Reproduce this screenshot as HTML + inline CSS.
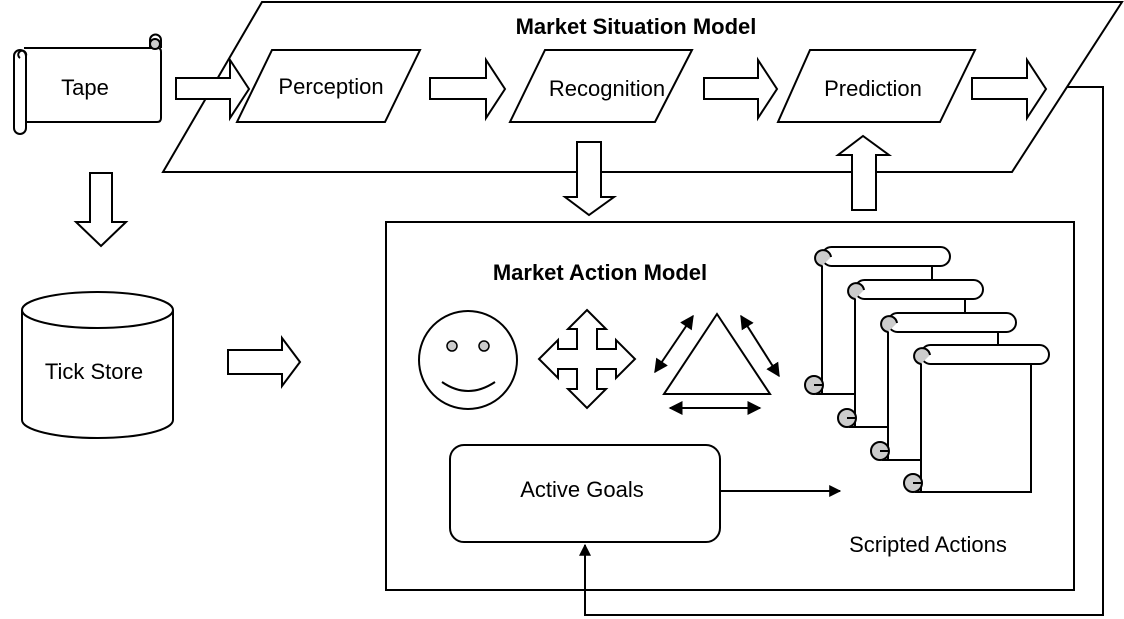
<!DOCTYPE html>
<html><head><meta charset="utf-8"><style>
html,body{margin:0;padding:0;background:#fff;}
svg{display:block;}
text{font-family:"Liberation Sans",Arial,sans-serif;fill:#000;}
</style></head><body>
<svg width="1124" height="619" viewBox="0 0 1124 619" xmlns="http://www.w3.org/2000/svg">
<defs>
<marker id="ah" viewBox="0 0 10 10" refX="9" refY="5" markerWidth="6" markerHeight="6" orient="auto-start-reverse" markerUnits="strokeWidth"><path d="M0,0 L10,5 L0,10 z" fill="#000"/></marker>
<marker id="ah2" viewBox="0 0 10 10" refX="9" refY="5" markerWidth="7" markerHeight="7" orient="auto-start-reverse" markerUnits="strokeWidth"><path d="M0,0 L10,5 L0,10 z" fill="#000"/></marker>
<g id="scroll">
<rect x="822" y="257" width="110" height="137" fill="#fff" stroke="#000" stroke-width="2"/>
<rect x="822" y="247" width="128" height="19" rx="9.5" fill="#fff" stroke="#000" stroke-width="2"/>
<path d="M822,266 A8,8 0 1 1 831,257" fill="#ccc" stroke="#000" stroke-width="2"/>
<circle cx="814" cy="385" r="9" fill="#ccc" stroke="#000" stroke-width="2"/>
<path d="M814,385 L822,385 M816,394 L822,394" stroke="#000" stroke-width="2"/>
</g>
</defs>
<g fill="none" stroke="#000" stroke-width="2">
<path d="M1067,87 L1103,87 L1103,615 L585,615 L585,545" marker-end="url(#ah)"/>
<polygon points="262,2 1122,2 1012,172 163,172" fill="#fff"/>
<polygon points="272,50 420,50 385,122 237,122" fill="#fff"/>
<polygon points="545,50 692,50 655,122 510,122" fill="#fff"/>
<polygon points="810,50 975,50 940,122 778,122" fill="#fff"/>
<polygon points="176,78 230,78 230,60 249,89 230,118 230,99 176,99" fill="#fff"/>
<polygon points="430,78 486,78 486,60 505,89 486,118 486,99 430,99" fill="#fff"/>
<polygon points="704,78 758,78 758,60 777,89 758,118 758,99 704,99" fill="#fff"/>
<polygon points="972,78 1027,78 1027,60 1046,89 1027,118 1027,99 972,99" fill="#fff"/>
<polygon points="577,142 601,142 601,197 614,197 589,215 565,197 577,197" fill="#fff"/>
<polygon points="852,210 876,210 876,155 889,155 863,136 838,155 852,155" fill="#fff"/>
<polygon points="90,173 112,173 112,222 126,222 101,246 76,222 90,222" fill="#fff"/>
<polygon points="228,350 282,350 282,338 300,362 282,386 282,374 228,374" fill="#fff"/>
<!-- tape scroll -->
<path d="M24,48 L158,48 Q161,48 161,52 L161,118 Q161,122 157,122 L24,122" fill="#fff"/>
<path d="M150,48 L150,40 A5,5 0 0 1 161,40 L161,48" fill="#fff"/>
<circle cx="155" cy="44" r="5" fill="#ccc"/>
<rect x="14" y="50" width="12" height="84" rx="6" fill="#fff"/>
<path d="M20,58 A4,4 0 1 1 26,56"/>
<ellipse cx="97.5" cy="420" rx="75.5" ry="18" fill="#fff"/>
<rect x="22" y="310" width="151" height="110" fill="#fff" stroke="none"/>
<path d="M22,310 L22,420 M173,310 L173,420"/>
<ellipse cx="97.5" cy="310" rx="75.5" ry="18" fill="#fff"/>
<rect x="386" y="222" width="688" height="368"/>
<rect x="450" y="445" width="270" height="97" rx="14" fill="#fff"/>
<path d="M720,491 L840,491" marker-end="url(#ah)"/>
<circle cx="468" cy="360" r="49"/>
<circle cx="452" cy="346" r="5" fill="#ccc" stroke-width="1.5"/>
<circle cx="484" cy="346" r="5" fill="#ccc" stroke-width="1.5"/>
<path d="M442,382 Q468,400 495,382"/>
<polygon points="587,310 606,329 597,329 597,349 616,349 616,340 635,359 616,378 616,369 597,369 597,389 606,389 587,408 568,389 577,389 577,369 558,369 558,378 539,359 558,340 558,349 577,349 577,329 568,329" fill="#fff"/>
<polygon points="717,314 664,394 770,394"/>
<path d="M655,372 L693,316" marker-start="url(#ah2)" marker-end="url(#ah2)"/>
<path d="M741,316 L779,376" marker-start="url(#ah2)" marker-end="url(#ah2)"/>
<path d="M670,408 L760,408" marker-start="url(#ah2)" marker-end="url(#ah2)"/>
</g>
<use href="#scroll"/>
<use href="#scroll" transform="translate(33,33)"/>
<use href="#scroll" transform="translate(66,66)"/>
<use href="#scroll" transform="translate(99,98)"/>
<text x="85" y="95" font-size="22" text-anchor="middle">Tape</text>
<text x="636" y="34" font-size="22" font-weight="bold" text-anchor="middle">Market Situation Model</text>
<text x="331" y="94" font-size="22" text-anchor="middle">Perception</text>
<text x="607" y="96" font-size="22" text-anchor="middle">Recognition</text>
<text x="873" y="96" font-size="22" text-anchor="middle">Prediction</text>
<text x="94" y="379" font-size="22" text-anchor="middle">Tick Store</text>
<text x="600" y="280" font-size="22" font-weight="bold" text-anchor="middle">Market Action Model</text>
<text x="582" y="497" font-size="22" text-anchor="middle">Active Goals</text>
<text x="928" y="552" font-size="22" text-anchor="middle">Scripted Actions</text>
</svg>
</body></html>
